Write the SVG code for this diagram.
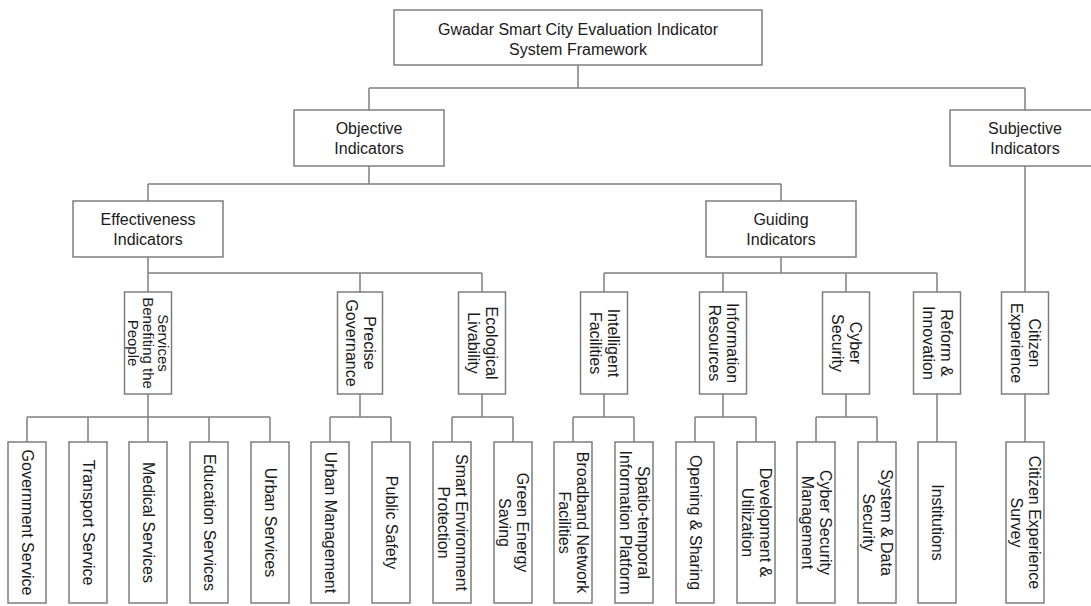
<svg xmlns="http://www.w3.org/2000/svg" width="1091" height="606" viewBox="0 0 1091 606">
<style>
  .box { fill: #ffffff; stroke: #7d7d7d; stroke-width: 1.5; }
  .con { fill: none; stroke: #7f7f7f; stroke-width: 1.5; }
  text { font-family: "Liberation Sans", Arial, sans-serif; font-size: 16px; fill: #1a1a1a; text-anchor: middle; }
  .sm { font-size: 15px; }
</style>
<rect x="0" y="0" width="1091" height="606" fill="#ffffff"/>
<g id="connectors">
  <path class="con" d="M578 65 V88 M369 88 H1025 M369 88 V110 M1025 88 V110"/>
  <path class="con" d="M369 166 V184 M148 184 H781 M148 184 V201 M781 184 V201"/>
  <path class="con" d="M1025 166 V292"/>
  <path class="con" d="M148 257 V273 M148 273 H482 M148 273 V292 M360 273 V292 M482 273 V292"/>
  <path class="con" d="M781 257 V273 M604 273 H937 M604 273 V292 M723 273 V292 M846 273 V292 M937 273 V292"/>
  <path class="con" d="M148 394 V417 M27 417 H270 M27 417 V442 M88 417 V442 M148 417 V442 M209 417 V442 M270 417 V442"/>
  <path class="con" d="M360 394 V417 M330 417 H391 M330 417 V442 M391 417 V442"/>
  <path class="con" d="M482 394 V417 M452 417 H513 M452 417 V442 M513 417 V442"/>
  <path class="con" d="M604 394 V417 M573 417 H634 M573 417 V442 M634 417 V442"/>
  <path class="con" d="M723 394 V417 M695 417 H756 M695 417 V442 M756 417 V442"/>
  <path class="con" d="M846 394 V417 M816 417 H877 M816 417 V442 M877 417 V442"/>
  <path class="con" d="M937 394 V442"/>
  <path class="con" d="M1025 394 V442"/>
</g>
<g id="root"><rect class="box" x="394" y="10" width="368" height="55"/><text x="578" y="35">Gwadar Smart City Evaluation Indicator</text><text x="578" y="55">System Framework</text></g>
<g id="objective"><rect class="box" x="294" y="110" width="150" height="56"/><text x="369" y="134">Objective</text><text x="369" y="154">Indicators</text></g>
<g id="subjective"><rect class="box" x="950" y="110" width="150" height="56"/><text x="1025" y="134">Subjective</text><text x="1025" y="154">Indicators</text></g>
<g id="effectiveness"><rect class="box" x="73" y="201" width="150" height="56"/><text x="148" y="225">Effectiveness</text><text x="148" y="245">Indicators</text></g>
<g id="guiding"><rect class="box" x="706" y="201" width="150" height="56"/><text x="781" y="225">Guiding</text><text x="781" y="245">Indicators</text></g>

<g id="services-benefiting"><rect class="box" x="124.5" y="292" width="47" height="102"/><text class="sm" transform="translate(148,343) rotate(90)"><tspan x="0" y="-9.75">Services</tspan><tspan x="0" y="5.25">Benefiting the</tspan><tspan x="0" y="20.25">People</tspan></text></g>
<g id="precise-governance"><rect class="box" x="337.5" y="292" width="45" height="102"/><text transform="translate(360,343) rotate(90)"><tspan x="0" y="-3.5">Precise</tspan><tspan x="0" y="14.5">Governance</tspan></text></g>
<g id="ecological-livability"><rect class="box" x="458.5" y="292" width="47" height="102"/><text transform="translate(482,343) rotate(90)"><tspan x="0" y="-3.5">Ecological</tspan><tspan x="0" y="14.5">Livability</tspan></text></g>
<g id="intelligent-facilities"><rect class="box" x="580.5" y="292" width="47" height="102"/><text transform="translate(604,343) rotate(90)"><tspan x="0" y="-3.5">Intelligent</tspan><tspan x="0" y="14.5">Facilities</tspan></text></g>
<g id="information-resources"><rect class="box" x="699.5" y="292" width="47" height="102"/><text transform="translate(723,343) rotate(90)"><tspan x="0" y="-3.5">Information</tspan><tspan x="0" y="14.5">Resources</tspan></text></g>
<g id="cyber-security"><rect class="box" x="822.5" y="292" width="47" height="102"/><text transform="translate(846,343) rotate(90)"><tspan x="0" y="-3.5">Cyber</tspan><tspan x="0" y="14.5">Security</tspan></text></g>
<g id="reform-innovation"><rect class="box" x="913.5" y="292" width="47" height="102"/><text transform="translate(937,343) rotate(90)"><tspan x="0" y="-3.5">Reform &amp;</tspan><tspan x="0" y="14.5">Innovation</tspan></text></g>
<g id="citizen-experience"><rect class="box" x="1001.5" y="292" width="47" height="102"/><text transform="translate(1025,343) rotate(90)"><tspan x="0" y="-3.5">Citizen</tspan><tspan x="0" y="14.5">Experience</tspan></text></g>

<g id="government-service"><rect class="box" x="8" y="442" width="38" height="161"/><text transform="translate(27,522.5) rotate(90)"><tspan x="0" y="5.5">Government Service</tspan></text></g>
<g id="transport-service"><rect class="box" x="69" y="442" width="38" height="161"/><text transform="translate(88,522.5) rotate(90)"><tspan x="0" y="5.5">Transport Service</tspan></text></g>
<g id="medical-services"><rect class="box" x="129" y="442" width="38" height="161"/><text transform="translate(148,522.5) rotate(90)"><tspan x="0" y="5.5">Medical Services</tspan></text></g>
<g id="education-services"><rect class="box" x="190" y="442" width="38" height="161"/><text transform="translate(209,522.5) rotate(90)"><tspan x="0" y="5.5">Education Services</tspan></text></g>
<g id="urban-services"><rect class="box" x="251" y="442" width="38" height="161"/><text transform="translate(270,522.5) rotate(90)"><tspan x="0" y="5.5">Urban Services</tspan></text></g>
<g id="urban-management"><rect class="box" x="311" y="442" width="38" height="161"/><text transform="translate(330,522.5) rotate(90)"><tspan x="0" y="5.5">Urban Management</tspan></text></g>
<g id="public-safety"><rect class="box" x="372" y="442" width="38" height="161"/><text transform="translate(391,522.5) rotate(90)"><tspan x="0" y="5.5">Public Safety</tspan></text></g>
<g id="smart-environment"><rect class="box" x="433" y="442" width="38" height="161"/><text transform="translate(452,522.5) rotate(90)"><tspan x="0" y="-3.5">Smart Environment</tspan><tspan x="0" y="14.5">Protection</tspan></text></g>
<g id="green-energy"><rect class="box" x="494" y="442" width="38" height="161"/><text transform="translate(513,522.5) rotate(90)"><tspan x="0" y="-3.5">Green Energy</tspan><tspan x="0" y="14.5">Saving</tspan></text></g>
<g id="broadband"><rect class="box" x="554" y="442" width="38" height="161"/><text transform="translate(573,522.5) rotate(90)"><tspan x="0" y="-3.5">Broadband Network</tspan><tspan x="0" y="14.5">Facilities</tspan></text></g>
<g id="spatio-temporal"><rect class="box" x="615" y="442" width="38" height="161"/><text transform="translate(634,522.5) rotate(90)"><tspan x="0" y="-3.5">Spatio-temporal</tspan><tspan x="0" y="14.5">Information Platform</tspan></text></g>
<g id="opening-sharing"><rect class="box" x="676" y="442" width="38" height="161"/><text transform="translate(695,522.5) rotate(90)"><tspan x="0" y="5.5">Opening &amp; Sharing</tspan></text></g>
<g id="development-utilization"><rect class="box" x="737" y="442" width="38" height="161"/><text transform="translate(756,522.5) rotate(90)"><tspan x="0" y="-3.5">Development &amp;</tspan><tspan x="0" y="14.5">Utilization</tspan></text></g>
<g id="cyber-security-management"><rect class="box" x="797" y="442" width="38" height="161"/><text transform="translate(816,522.5) rotate(90)"><tspan x="0" y="-3.5">Cyber Security</tspan><tspan x="0" y="14.5">Management</tspan></text></g>
<g id="system-data-security"><rect class="box" x="858" y="442" width="38" height="161"/><text transform="translate(877,522.5) rotate(90)"><tspan x="0" y="-3.5">System &amp; Data</tspan><tspan x="0" y="14.5">Security</tspan></text></g>
<g id="institutions"><rect class="box" x="918" y="442" width="38" height="161"/><text transform="translate(937,522.5) rotate(90)"><tspan x="0" y="5.5">Institutions</tspan></text></g>
<g id="citizen-experience-survey"><rect class="box" x="1006" y="442" width="38" height="161"/><text transform="translate(1025,522.5) rotate(90)"><tspan x="0" y="-3.5">Citizen Experience</tspan><tspan x="0" y="14.5">Survey</tspan></text></g>
</svg>
